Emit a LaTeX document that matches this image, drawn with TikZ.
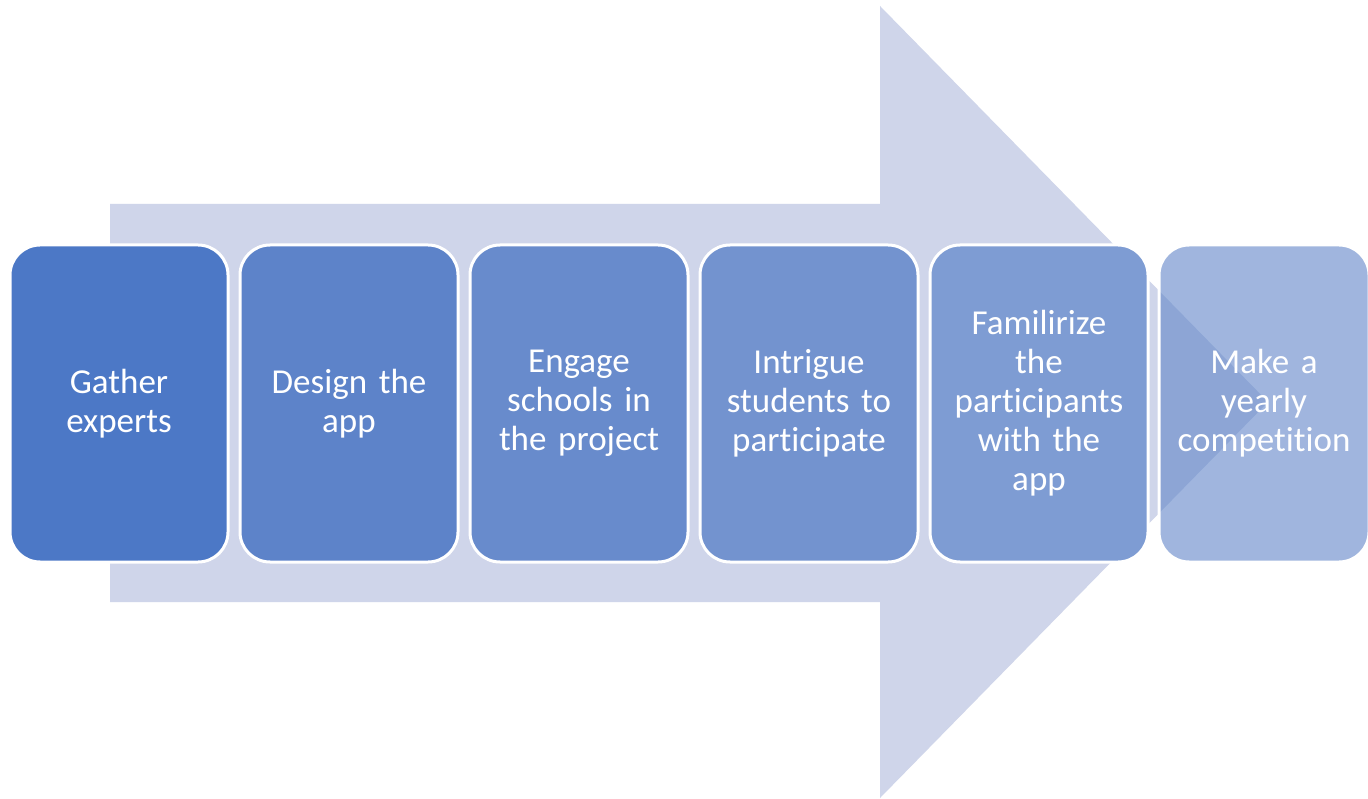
\documentclass[tikz,border=0pt]{standalone}
\usepackage{fontspec}
\setmainfont{Carlito}[Ligatures=NoCommon]
\begin{document}
\begin{tikzpicture}[x=1pt,y=-1pt,
  stepbox/.style={draw=white,line width=3pt,rounded corners=30pt,minimum width=218pt,minimum height=317pt,
    text width=210pt,align=center,text=white,font=\fontsize{35}{39}\selectfont,inner sep=0pt},
  flow/.style={fill=arrowc,draw=none}]
\definecolor{arrowc}{RGB}{207,213,234}
\definecolor{c1}{RGB}{76,120,198}
\definecolor{c2}{RGB}{93,131,201}
\definecolor{c3}{RGB}{104,139,204}
\definecolor{c4}{RGB}{115,147,207}
\definecolor{c5}{RGB}{126,156,211}
\definecolor{c6}{RGB}{97,133,200}
\useasboundingbox (0,0) rectangle (1368,799);
\fill[white] (0,0) rectangle (1368,799);
\path[flow] (110,204) -- (880,204) -- (880,6) -- (1268,402) -- (880,798) -- (880,602) -- (110,602) -- cycle;
\node[stepbox,fill=c1] (s1) at (119,403.5) {Gather\\experts};
\node[stepbox,fill=c2] (s2) at (349,403.5) {Design the\\app};
\node[stepbox,fill=c3] (s3) at (579,403.5) {Engage\\schools in\\the project};
\node[stepbox,fill=c4] (s4) at (809,403.5) {Intrigue\\students to\\participate};
\node[stepbox,fill=c5] (s5) at (1039,403.5) {Familirize\\the\\participants\\with the\\app};
\node[stepbox,fill=c6,fill opacity=0.6,text opacity=1,minimum width=206pt] (s6) at (1264,403.5) {Make a\\yearly\\competition};
\end{tikzpicture}
\end{document}
